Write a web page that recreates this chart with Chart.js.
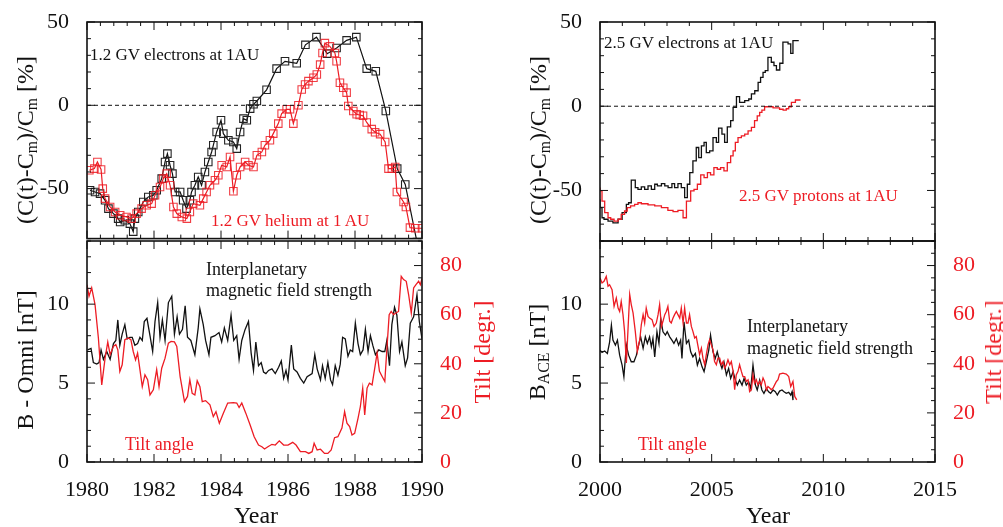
<!DOCTYPE html>
<html>
<head>
<meta charset="utf-8">
<script src="https://cdn.jsdelivr.net/npm/chart.js@4.4.1/dist/chart.umd.min.js"></script>
<style>
  body { margin: 0; background: #fff; }
  #wrap { position: relative; width: 1003px; height: 527px; overflow: hidden; font-family: 'Liberation Serif', 'Times New Roman', serif; color: #111; }
  canvas { position: absolute; }
  .t { position: absolute; white-space: nowrap; line-height: 1; transform: translateY(-50%); z-index: 2; }
  .v { position: absolute; white-space: nowrap; line-height: 1; transform: translate(-50%, -50%) rotate(-90deg); z-index: 2; font-size: 24px; }
  .c { position: absolute; white-space: nowrap; line-height: 1; transform: translate(-50%, -50%); z-index: 2; font-size: 24px; }
  .red { color: rgb(237, 28, 36); }
  sub { font-size: 66%; vertical-align: -0.25em; line-height: 0; }
</style>
</head>
<body>
<div id="wrap">
  <canvas id="ul" width="500" height="245" style="left:0;top:0"></canvas>
  <canvas id="ll" width="500" height="292" style="left:0;top:235px"></canvas>
  <canvas id="ur" width="503" height="245" style="left:500px;top:0"></canvas>
  <canvas id="lr" width="503" height="292" style="left:500px;top:235px"></canvas>

  <div class="v" style="left:25px;top:140px">(C(t)-C<sub>m</sub>)/C<sub>m</sub> [%]</div>
  <div class="v" style="left:538px;top:140px">(C(t)-C<sub>m</sub>)/C<sub>m</sub> [%]</div>
  <div class="v" style="left:25px;top:360px">B - Omni [nT]</div>
  <div class="v" style="left:537px;top:352px">B<sub>ACE</sub> [nT]</div>
  <div class="v red" style="left:482px;top:352px">Tilt [degr.]</div>
  <div class="v red" style="left:993px;top:352px">Tilt [degr.]</div>
  <div class="c" style="left:256px;top:515px">Year</div>
  <div class="c" style="left:768px;top:515px">Year</div>

  <div class="t" style="left:90px;top:54px;font-size:17px">1.2 GV electrons at 1AU</div>
  <div class="t red" style="left:211px;top:220px;font-size:17px">1.2 GV helium at 1 AU</div>
  <div class="t" style="left:604px;top:42px;font-size:17px">2.5 GV electrons at 1AU</div>
  <div class="t red" style="left:739px;top:195px;font-size:17px">2.5 GV protons at 1AU</div>
  <div class="t" style="left:206px;top:269px;font-size:18px">Interplanetary</div>
  <div class="t" style="left:206px;top:290px;font-size:18px">magnetic field strength</div>
  <div class="t red" style="left:125px;top:444px;font-size:18px">Tilt angle</div>
  <div class="t" style="left:747px;top:326px;font-size:18px">Interplanetary</div>
  <div class="t" style="left:747px;top:348px;font-size:18px">magnetic field strength</div>
  <div class="t red" style="left:638px;top:444px;font-size:18px">Tilt angle</div>
</div>
<script>
// 1.2 GV electrons and helium, 1980-1990 (upper left)
const ulEYears = [1980.09,1980.24,1980.39,1980.54,1980.64,1980.79,1980.93,1980.99,
  1981.13,1981.28,1981.38,1981.43,1981.53,1981.68,1981.83,1981.98,
  1982.08,1982.23,1982.33,1982.40,1982.48,1982.55,1982.63,1982.78,1982.87,1982.97,
  1983.07,1983.12,1983.22,1983.32,1983.42,1983.52,1983.62,1983.72,1983.77,1983.87,
  1984.00,1984.07,1984.22,1984.37,1984.47,1984.57,1984.67,1984.77,1984.87,1984.97,
  1985.07,1985.36,1985.66,1985.91,1986.26,1986.52,1986.85,1987.17,1987.45,1987.75,
  1988.04,1988.35,1988.62,1988.92,1989.26,1989.50,1989.85];
const ulElectrons = [-51,-52,-53,-57,-62,-65,-68,-70,
  -69,-71,-75.8,-68,-64,-58,-55,-54,
  -51,-44,-34,-29,-36,-41,-52,-52,-57,-62,
  -57,-52,-48,-43,-48,-40,-34,-28,-24,-16,
  -9,-17,-21,-22,-26,-16,-8,-9,-2,0.6,
  2.6,9.3,22,26.4,25.2,36.3,40.9,31,34.4,39,
  40.9,22,20.4,-3.4,-38,-47.5,-82];
const ulHeYears = [1980.07,1980.22,1980.31,1980.42,1980.47,1980.54,1980.69,1980.84,1980.99,
  1981.18,1981.33,1981.48,1981.63,1981.78,1981.93,
  1982.03,1982.18,1982.28,1982.38,1982.48,1982.58,1982.68,1982.83,1982.98,
  1983.07,1983.17,1983.37,1983.47,1983.57,1983.67,1983.82,1983.92,
  1984.02,1984.17,1984.27,1984.37,1984.47,1984.57,1984.72,1984.82,1984.97,
  1985.07,1985.22,1985.31,1985.46,1985.56,1985.71,1985.81,1985.96,
  1986.06,1986.16,1986.31,1986.41,1986.51,1986.61,1986.76,1986.86,1986.96,
  1987.03,1987.10,1987.25,1987.40,1987.45,1987.55,1987.65,1987.75,1987.80,1987.95,
  1988.05,1988.14,1988.24,1988.35,1988.50,1988.60,1988.75,1988.90,
  1989.00,1989.10,1989.20,1989.25,1989.45,1989.52,1989.64,1989.80,1990.00];
const ulHelium = [-39,-38,-34,-38.5,-50,-56,-61,-64,-66,
  -67,-68,-65,-62,-60,-59,
  -54,-49,-44,-41,-48,-61,-65,-67,-68,
  -64,-59,-60,-56,-52,-48,-45,-42,
  -36,-37,-31,-51.6,-42,-37,-34,-36,-37,
  -30,-28,-24,-21,-17,-11,-5,-2.4,
  -2.4,-11,0,9.5,12.5,14.5,16.5,18.5,24.4,
  31.4,37.3,35.4,31.4,26.4,13.5,10.5,7.6,-0.4,-3.4,
  -5.4,-5.8,-6.3,-10.3,-14.3,-16.2,-17.3,-22,
  -38,-38,-37,-52,-58,-61,-73.4,-73.8,-73.8];

// IMF strength (Omni) and tilt angle, 1980-1990 (lower left)
const llBYears = [1980.02,1980.12,1980.19,1980.29,1980.36,1980.42,1980.49,1980.59,1980.69,1980.79,
  1980.86,1980.92,1980.98,1981.05,1981.13,1981.20,1981.28,1981.35,1981.43,1981.51,
  1981.58,1981.65,1981.71,1981.79,1981.88,1981.96,1982.03,1982.11,1982.18,1982.25,
  1982.33,1982.43,1982.53,1982.61,1982.69,1982.76,1982.85,1982.93,1983.00,1983.10,
  1983.22,1983.32,1983.37,1983.47,1983.54,1983.64,1983.70,1983.82,1983.94,1984.02,
  1984.10,1984.20,1984.30,1984.38,1984.47,1984.54,1984.62,1984.72,1984.82,1984.90,1984.97,
  1985.04,1985.12,1985.20,1985.27,1985.34,1985.42,1985.52,1985.62,1985.72,1985.80,
  1985.87,1985.94,1986.00,1986.10,1986.17,1986.27,1986.37,1986.47,1986.57,1986.72,
  1986.80,1986.87,1986.97,1987.03,1987.11,1987.19,1987.27,1987.33,1987.41,1987.49,
  1987.56,1987.63,1987.71,1987.79,1987.86,1987.93,1988.01,1988.09,1988.16,1988.24,
  1988.31,1988.39,1988.46,1988.53,1988.61,1988.71,1988.81,1988.89,1988.95,1989.03,
  1989.10,1989.18,1989.25,1989.33,1989.40,1989.50,1989.57,1989.65,1989.75,1989.85,
  1989.92,1990.00];
const llB = [7.1,7.2,6.3,6.2,6.3,7.1,6.5,7.0,6.5,7.5,
  7.7,9.0,7.4,8.1,8.7,7.8,7.9,7.9,7.4,7.5,
  7.9,7.7,8.9,9.1,8.0,7.0,8.9,10.1,7.9,9.0,
  7.7,10.1,10.5,8.1,9.2,8.1,8.4,9.9,7.9,7.7,
  6.8,8.5,9.7,8.7,7.7,6.8,7.9,8.0,8.2,7.6,
  8.5,7.7,9.3,7.7,8.0,6.5,7.7,8.4,8.9,6.9,5.8,
  7.6,6.1,6.3,5.7,5.6,5.8,5.9,5.6,6.0,6.4,
  5.3,5.8,5.2,7.4,5.9,5.7,5.3,5.0,5.4,5.6,
  6.8,5.9,5.2,6.1,5.3,6.3,5.2,4.9,6.1,5.5,
  6.2,7.9,7.8,6.7,7.1,7.0,8.8,7.5,6.8,7.1,
  8.4,7.0,8.0,7.4,6.8,7.1,7.0,7.0,7.7,6.1,
  8.7,9.8,9.3,7.0,7.6,6.1,6.6,8.8,9.2,10.6,
  8.9,7.8];
const llTiltYears = [1980.00,1980.06,1980.14,1980.24,1980.34,1980.44,1980.54,1980.62,1980.69,1980.79,
  1980.86,1980.92,1980.98,1981.05,1981.13,1981.23,1981.31,1981.38,1981.45,1981.51,
  1981.58,1981.65,1981.73,1981.81,1981.88,1981.98,1982.08,1982.15,1982.23,1982.33,
  1982.43,1982.51,1982.61,1982.68,1982.78,1982.91,1983.00,1983.07,1983.14,1983.22,
  1983.29,1983.37,1983.44,1983.54,1983.67,1983.77,1983.85,1983.95,1984.07,1984.20,
  1984.37,1984.47,1984.54,1984.62,1984.74,1984.87,1984.99,
  1985.12,1985.22,1985.30,1985.40,1985.52,1985.62,1985.74,1985.87,1986.00,1986.14,
  1986.24,1986.37,1986.52,1986.62,1986.72,1986.78,1986.87,1986.97,1987.09,1987.19,
  1987.29,1987.39,1987.49,1987.61,1987.69,1987.76,1987.84,1987.91,1987.99,1988.09,
  1988.16,1988.23,1988.29,1988.36,1988.43,1988.51,1988.59,1988.66,1988.73,1988.81,
  1988.89,1988.95,1989.02,1989.08,1989.15,1989.22,1989.30,1989.38,1989.45,1989.53,
  1989.60,1989.68,1989.75,1989.82,1989.90,1989.95,1990.00];
const llTilt = [72.2,67.5,70.9,64.1,50.5,31.4,42.3,48.9,43.7,47.1,
  47.8,45.7,36.9,39.6,49.8,50.5,49.8,45.0,41.6,44.4,
  37.6,30.7,35.5,33.5,27.3,29.4,37.6,30.7,38.2,42.3,
  48.4,49.1,48.9,47.1,34.8,24.6,26.7,33.5,28.0,27.3,
  33.1,30.7,24.6,25.0,23.3,18.5,20.5,15.8,19.9,24.0,
  24.2,24.0,22.2,24.0,19.9,15.1,10.3,
  6.9,6.2,5.3,6.2,7.2,6.9,8.6,6.9,6.9,8.0,
  6.9,4.2,4.2,3.5,4.2,7.6,4.9,5.2,3.5,3.5,
  4.9,9.9,10.3,13.8,20.5,15.8,14.4,11.0,11.7,17.8,
  22.6,30.1,19.2,30.1,32.1,31.4,38.2,44.4,36.9,34.8,
  32.8,45.7,60.0,61.3,60.0,60.7,61.3,75.6,74.3,73.6,
  68.2,60.7,70.9,72.2,73.6,72.2,74.7];

// 2.5 GV electrons and protons, 2000-2009 (upper right, stepped)
const urEYears = [2000.00,2000.09,2000.18,2000.36,2000.58,2000.81,2000.99,2001.18,2001.28,2001.40,
  2001.58,2001.70,2001.85,2002.00,2002.15,2002.30,2002.45,2002.57,2002.75,2002.90,
  2003.05,2003.22,2003.34,2003.49,2003.64,2003.79,2003.91,2004.02,2004.16,2004.31,
  2004.42,2004.54,2004.66,2004.76,2004.91,2005.06,2005.21,2005.31,2005.46,2005.58,
  2005.70,2005.85,2005.96,2006.11,2006.25,2006.48,2006.66,2006.78,2006.93,2007.08,
  2007.19,2007.30,2007.40,2007.52,2007.67,2007.79,2007.90,2008.05,2008.19,2008.42,
  2008.54,2008.64,2008.75,2008.90];
const urElectrons = [-55.3,-60.2,-66.2,-67.1,-68.2,-69.2,-67.1,-63.2,-58.2,-57.3,
  -43.9,-48.3,-49.3,-47.9,-49.3,-47.3,-49.3,-46.3,-47.3,-45.9,
  -47.3,-48.3,-45.9,-48.3,-45.9,-48.3,-54.3,-46.3,-39.4,-32.4,
  -24.5,-30.5,-23.5,-21.5,-27.5,-26.5,-18.6,-21.5,-13,-16.5,
  -21.5,-12.2,-8.6,-0.7,5.7,2.3,3.3,4.3,7.3,9.2,
  14.2,17.1,20.1,21.1,29.0,26.1,24.1,21.5,25.5,38,
  37,31.4,39,39];
const urPYears = [2000.00,2000.09,2000.21,2000.36,2000.48,2000.63,2000.81,2000.95,
  2001.10,2001.22,2001.37,2001.55,2001.70,2001.85,2002.15,2002.45,2002.75,
  2003.04,2003.27,2003.49,2003.72,2003.87,2004.06,2004.21,2004.36,2004.51,2004.66,2004.81,2004.95,
  2005.10,2005.25,2005.40,2005.55,2005.70,2005.85,2005.96,2006.06,2006.18,2006.33,2006.48,2006.63,2006.78,2006.92,
  2007.04,2007.15,2007.25,2007.37,2007.52,2007.75,2008.04,2008.20,2008.34,2008.45,2008.57,2008.75,2008.87,2008.98];
const urProtons = [-48.3,-50.3,-56.3,-63.2,-66.2,-67.1,-68.2,-67.1,
  -64.2,-62.2,-60.2,-59.2,-58.2,-57.3,-57.9,-58.6,-59.2,
  -60.2,-61.8,-62.6,-61.8,-66.2,-56.3,-50.3,-49.3,-46.3,-40.8,-42.4,-39.4,
  -40.8,-36.4,-37.4,-36.4,-38.4,-33.5,-29.5,-26.5,-21.5,-18.6,-17.6,-16.5,-14.6,-12.6,
  -8.6,-5.7,-3.7,-2.3,-0.3,-0.3,-1.0,-1.8,-2.3,-1.5,-0.3,2.3,3.7,3.7];

// IMF strength (ACE) and tilt angle, 2000-2009 (lower right)
const lrBYears = [2000.00,2000.09,2000.21,2000.33,2000.43,2000.51,2000.58,2000.69,2000.78,2000.88,
  2000.99,2001.07,2001.18,2001.28,2001.40,2001.52,2001.63,2001.73,2001.82,2001.93,
  2002.03,2002.12,2002.22,2002.30,2002.37,2002.45,2002.55,2002.64,2002.72,2002.82,
  2002.93,2003.01,2003.12,2003.22,2003.31,2003.42,2003.52,2003.61,2003.67,2003.76,
  2003.87,2003.97,2004.06,2004.16,2004.27,2004.36,2004.46,2004.57,2004.66,2004.76,
  2004.87,2004.95,2005.06,2005.16,2005.25,2005.36,2005.46,2005.55,2005.66,2005.76,
  2005.85,2005.96,2006.06,2006.15,2006.25,2006.36,2006.45,2006.55,2006.66,2006.75,
  2006.85,2006.96,2007.04,2007.15,2007.25,2007.34,2007.45,2007.55,2007.64,2007.75,
  2007.85,2007.94,2008.04,2008.15,2008.24,2008.34,2008.45,2008.54,2008.60,2008.64];
const lrB = [7.09,6.94,7.03,6.88,7.6,8.67,7.72,7.4,7.72,6.77,
  6.14,5.4,7.4,6.77,6.35,6.35,6.77,7.4,7.93,7.2,
  7.93,7.51,7.93,7.3,7.83,6.66,8.25,7.51,9.09,8.25,
  8.04,8.25,7.93,7.72,7.51,7.83,7.4,7.72,6.56,8.88,
  7.51,7.72,6.98,6.66,6.88,6.14,6.56,6.03,5.72,6.35,
  7.09,8.04,6.98,6.56,6.98,6.35,5.93,6.35,5.51,5.93,
  5.3,5.72,5.19,4.87,5.19,4.87,5.3,4.87,5.08,4.66,
  6.14,4.87,4.56,5.19,4.56,4.35,4.66,4.45,4.35,4.56,
  4.45,4.24,4.49,4.56,4.45,4.35,4.41,4.24,4.45,3.92];
const lrTiltYears = [2000.00,2000.09,2000.18,2000.28,2000.36,2000.43,2000.54,2000.63,2000.73,2000.81,
  2000.88,2000.95,2001.03,2001.10,2001.18,2001.25,2001.33,2001.40,2001.48,2001.58,
  2001.67,2001.78,2001.85,2001.93,2002.00,2002.07,2002.15,2002.22,2002.33,2002.42,
  2002.52,2002.60,2002.67,2002.75,2002.82,2002.90,2002.97,2003.04,2003.12,2003.19,
  2003.27,2003.34,2003.42,2003.49,2003.57,2003.64,2003.72,2003.79,2003.87,2003.94,
  2004.01,2004.09,2004.16,2004.24,2004.31,2004.39,2004.46,2004.54,2004.61,2004.69,
  2004.76,2004.84,2004.91,2004.98,2005.06,2005.13,2005.21,2005.28,2005.36,2005.43,
  2005.51,2005.58,2005.66,2005.73,2005.81,2005.88,2005.96,2006.03,2006.10,2006.18,
  2006.25,2006.33,2006.40,2006.48,2006.55,2006.63,2006.70,2006.78,2006.85,2006.92,
  2007.00,2007.07,2007.15,2007.22,2007.30,2007.37,2007.45,2007.52,2007.60,2007.67,
  2007.75,2007.82,2007.90,2007.97,2008.04,2008.19,2008.34,2008.45,2008.54,2008.64,
  2008.72,2008.81];
const lrTilt = [75.0,72.9,73.6,75.6,71.6,72.2,70.2,63.4,66.8,62.7,
  61.3,65.4,60.0,53.2,40.3,53.2,68.2,64.1,60.7,53.2,
  45.0,49.8,55.9,60.0,56.6,62.7,59.3,58.6,58.0,55.2,
  56.6,60.0,64.1,55.2,57.3,60.0,61.3,63.4,57.3,56.6,
  58.6,60.0,61.3,60.0,58.6,62.7,56.6,62.7,56.6,56.6,
  60.0,55.2,53.2,50.5,51.1,47.1,43.7,46.4,42.3,39.6,
  43.7,47.8,49.8,47.8,45.7,40.9,39.6,42.3,42.3,39.6,
  40.9,38.2,39.6,41.6,39.6,40.9,36.9,29.4,35.5,36.9,
  39.6,36.9,34.8,34.8,32.8,33.5,28.7,29.4,35.5,32.1,
  33.5,31.4,32.8,31.4,34.2,32.8,29.4,30.7,30.1,29.4,
  30.1,31.4,32.8,33.5,35.8,36.2,35.8,34.8,30.7,32.8,
  26.7,25.3];

// tick labels
const ticksC = [-50, 0, 50];
const ticksB = [0, 5, 10];
const ticksTilt = [0, 20, 40, 60, 80];
const ticks80s = [1980, 1982, 1984, 1986, 1988, 1990];
const ticks00s = [2000, 2005, 2010, 2015];

const RED = 'rgb(237, 28, 36)';
const FONT = { family: "'Liberation Serif', 'Times New Roman', serif", size: 22 };

const pts = (xs, ys) => xs.map((x, i) => ({ x: x, y: ys[i] }));

// inward tick marks on all four sides plus the box around the plot
const frameTicks = {
  id: 'frameTicks',
  afterDraw(chart, args, opts) {
    const { ctx, chartArea: a, scales } = chart;
    const run = (scale, step, major, draw) => {
      const n = Math.round((scale.max - scale.min) / step);
      for (let i = 0; i <= n; i++) {
        const v = scale.min + i * step;
        const r = v / major;
        draw(scale.getPixelForValue(v), Math.abs(r - Math.round(r)) < 1e-6 ? 8 : 4);
      }
    };
    ctx.save();
    ctx.strokeStyle = '#111';
    ctx.lineWidth = 1;
    ctx.beginPath();
    run(scales.x, opts.x[0], opts.x[1], (p, len) => {
      ctx.moveTo(p, a.bottom); ctx.lineTo(p, a.bottom - len);
      ctx.moveTo(p, a.top); ctx.lineTo(p, a.top + len);
    });
    run(scales.y, opts.y[0], opts.y[1], (p, len) => {
      ctx.moveTo(a.left, p); ctx.lineTo(a.left + len, p);
      if (!scales.y2) { ctx.moveTo(a.right, p); ctx.lineTo(a.right - len, p); }
    });
    if (scales.y2) {
      run(scales.y2, opts.y2[0], opts.y2[1], (p, len) => {
        ctx.moveTo(a.right, p); ctx.lineTo(a.right - len, p);
      });
    }
    ctx.stroke();
    ctx.lineWidth = 1.6;
    ctx.strokeRect(a.left, a.top, a.right - a.left, a.bottom - a.top);
    ctx.restore();
  }
};
Chart.register(frameTicks);

function yAxis(ticks, min, max, width, color, position) {
  return {
    type: 'linear', position: position, min: min, max: max,
    grid: { display: false }, border: { display: false },
    afterBuildTicks: s => { s.ticks = ticks.map(v => ({ value: v })); },
    afterFit: s => { s.width = width; s.paddingTop = 0; s.paddingBottom = 0; },
    ticks: { font: FONT, color: color, padding: 10, callback: v => String(v) }
  };
}
function xAxis(ticks, min, max, show) {
  return {
    type: 'linear', min: min, max: max, display: show,
    grid: { display: false }, border: { display: false },
    afterBuildTicks: s => { s.ticks = ticks.map(v => ({ value: v })); },
    afterFit: s => { s.height = show ? 65 : 0; s.paddingLeft = 0; s.paddingRight = 0; },
    ticks: { font: FONT, color: '#111', padding: 7, maxRotation: 0, callback: v => String(v) }
  };
}
const common = {
  responsive: false, animation: false,
  plugins: { legend: { display: false }, tooltip: { enabled: false } }
};

// upper left: squares joined by lines
new Chart(document.getElementById('ul'), {
  type: 'line',
  data: {
    datasets: [
      { data: [{ x: 1980, y: 0 }, { x: 1990, y: 0 }], borderColor: '#111', borderWidth: 1, borderDash: [4, 3], pointRadius: 0 },
      { data: pts(ulHeYears, ulHelium), borderColor: RED, borderWidth: 1.2, pointStyle: 'rect', pointRadius: 5.3,
        pointBorderColor: 'rgba(237,28,36,0.85)', pointBackgroundColor: 'rgba(0,0,0,0)', pointBorderWidth: 1.1 },
      { data: pts(ulEYears, ulElectrons), borderColor: '#111', borderWidth: 1.2, pointStyle: 'rect', pointRadius: 5.3,
        pointBorderColor: '#222', pointBackgroundColor: 'rgba(0,0,0,0)', pointBorderWidth: 1.1 }
    ]
  },
  options: Object.assign({}, common, {
    layout: { padding: { top: 22, right: 78, bottom: 4, left: 0 } },
    scales: { x: xAxis(ticks80s, 1980, 1990, false), y: yAxis(ticksC, -80, 50, 87, '#111', 'left') },
    plugins: Object.assign({}, common.plugins, { frameTicks: { x: [0.4, 2], y: [10, 50] } })
  })
});

// lower left: field strength and tilt angle
new Chart(document.getElementById('ll'), {
  type: 'line',
  data: {
    datasets: [
      { data: pts(llTiltYears, llTilt), yAxisID: 'y2', borderColor: RED, borderWidth: 1.3, pointRadius: 0 },
      { data: pts(llBYears, llB), yAxisID: 'y', borderColor: '#111', borderWidth: 1.3, pointRadius: 0 }
    ]
  },
  options: Object.assign({}, common, {
    layout: { padding: { top: 6, right: 0, bottom: 0, left: 0 } },
    scales: {
      x: xAxis(ticks80s, 1980, 1990, true),
      y: yAxis(ticksB, 0, 14, 87, '#111', 'left'),
      y2: yAxis(ticksTilt, 0, 90, 78, RED, 'right')
    },
    plugins: Object.assign({}, common.plugins, { frameTicks: { x: [0.4, 2], y: [1, 5], y2: [5, 20] } })
  })
});

// upper right: stepped averages
new Chart(document.getElementById('ur'), {
  type: 'line',
  data: {
    datasets: [
      { data: [{ x: 2000, y: 0 }, { x: 2015, y: 0 }], borderColor: '#111', borderWidth: 1, borderDash: [4, 3], pointRadius: 0 },
      { data: pts(urPYears, urProtons), borderColor: RED, borderWidth: 1.3, pointRadius: 0, stepped: 'after' },
      { data: pts(urEYears, urElectrons), borderColor: '#111', borderWidth: 1.3, pointRadius: 0, stepped: 'after' }
    ]
  },
  options: Object.assign({}, common, {
    layout: { padding: { top: 22, right: 68, bottom: 4, left: 0 } },
    scales: { x: xAxis(ticks00s, 2000, 2015, false), y: yAxis(ticksC, -80, 50, 100, '#111', 'left') },
    plugins: Object.assign({}, common.plugins, { frameTicks: { x: [1, 5], y: [10, 50] } })
  })
});

// lower right
new Chart(document.getElementById('lr'), {
  type: 'line',
  data: {
    datasets: [
      { data: pts(lrTiltYears, lrTilt), yAxisID: 'y2', borderColor: RED, borderWidth: 1.3, pointRadius: 0 },
      { data: pts(lrBYears, lrB), yAxisID: 'y', borderColor: '#111', borderWidth: 1.3, pointRadius: 0 }
    ]
  },
  options: Object.assign({}, common, {
    layout: { padding: { top: 6, right: 0, bottom: 0, left: 0 } },
    scales: {
      x: xAxis(ticks00s, 2000, 2015, true),
      y: yAxis(ticksB, 0, 14, 100, '#111', 'left'),
      y2: yAxis(ticksTilt, 0, 90, 68, RED, 'right')
    },
    plugins: Object.assign({}, common.plugins, { frameTicks: { x: [1, 5], y: [1, 5], y2: [5, 20] } })
  })
});
</script>
</body>
</html>
